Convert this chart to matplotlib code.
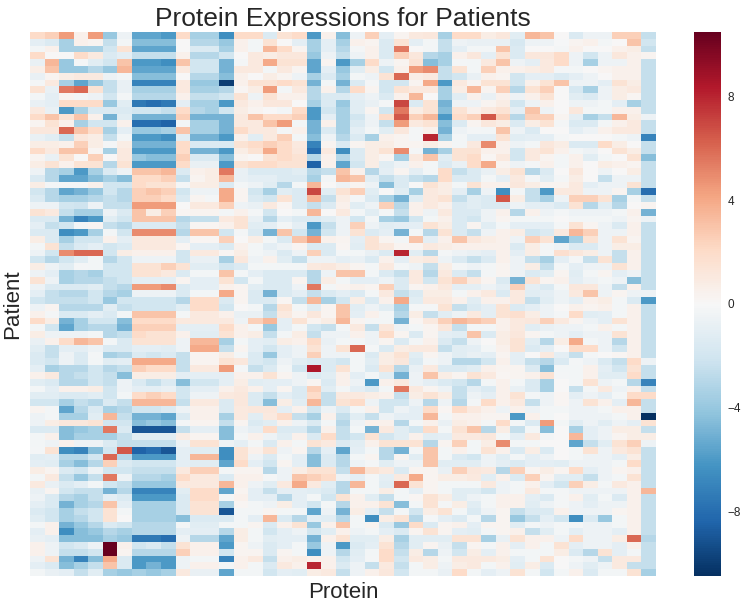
import numpy as np
import matplotlib
matplotlib.use("Agg")
import matplotlib.pyplot as plt

title = "Protein Expressions for Patients"
x_label = "Protein"
y_label = "Patient"
cbar_ticks = [-8, -4, 0, 4, 8]
value_range = (-10.5, 10.5)

# rows = patients (80), columns = proteins (43)
expression = [
    [2, 2.5, 4.5, 0.5, 4.5, -4, -0.5, -5.5, -5.5, -6, 2, -3.5, -3.5, -6.5, 2, 2, -1.5, 1.5, 2, -6, 0.5, -4.5, -0.5, 2.5, -1, 0.3, 1, 1.2, -3.5, 2, 2, 0.8, 1.2, -1.2, 3.5, 3, 0, -1.5, -0.5, -0.5, 2.5, 2.5, -2.5],
    [-1, -1.5, -3.5, 0.5, 0.3, -2.5, -0.3, -4.5, -4.5, -4.5, 0, -3, -3, -4, 0.5, -0.3, 1.5, 0, -1, -3.5, -1, -3.5, 0.5, 0.3, -1.5, 1.5, -1, -0.3, -2.5, -0.5, -0.8, -0.8, -0.8, -1.8, -0.5, -0.5, -0.1, 0.3, 0.5, -0.3, 0, 3, -2],
    [-0.3, 0.5, -3.5, -3.5, -3.5, -2, 1.5, -5.5, -5.5, -5.5, 0, -1.5, -1.5, -3.5, 0.5, -0.3, 3.5, 2, 0.3, -3.5, -1, -3, -0.2, 0.5, -1.5, 5.5, 0, -0.3, -2.5, -1, -0.3, -0.3, 3, -1.5, 0, 0, -0.2, 0.5, 0, 0, 0.5, 0.8, -2.5],
    [2, 0, 0, 2, 1, -1.5, -1, -2.5, -2.5, -2.5, 0.5, -3, -3, -2, 0, 1, 0.8, 1.2, 1.2, -4, -0.5, -2.5, -0.5, 0.5, -1.5, 2.5, 1.2, -3, -3.5, 0.5, 1.2, -1, 1.5, -1.5, 1.2, 1.2, 2, -0.5, -2, -0.5, 1.2, 0.5, 0.3],
    [-0.8, 3.5, -4, -0.2, -1.2, -2, 3, -6, -6, -6.5, 3, -2, -2, -5, -0.2, 1, 4, 1.5, 1.5, -5.5, 0.3, -6, -3.5, 2, -0.5, 0.3, 1.5, -4.5, -3.5, -0.2, -0.3, 1, 3, -0.5, -1, 1, 2, -0.5, -3.5, -0.5, -0.5, 0.5, -2.5],
    [0.7, 3, -4, -4, -3, -4, 3.5, -5.5, -5.5, -5.5, 1, -2, -2, -5, 1, 1, -0.3, 1, 0.3, -5.5, -1, -4, -1.2, 0.8, -2, 0.5, 4.5, 5, -2.5, 1.5, -0.3, 2.5, 0.5, 0.5, 0.8, 1, -0.2, -0.3, 0, 0.3, 0.5, 0.5, -2.5],
    [-0.8, 0.3, 0.8, 1, 1, -0.5, -0.3, -4.5, -4.5, -4.5, 0, -3, -3, -4.5, 0.5, 0, 0.8, 0.3, -0.5, -3.5, -1.5, -3.5, -0.3, -0.5, 1.5, 6, 0.8, 1, -2.5, -2, -0.8, 0.5, 0.3, -2, -1, -1, -1.5, -1, -0.5, 0, 0.5, 0.5, -2.5],
    [-0.2, 1, -3.5, -5.5, -4, -2.5, -0.8, -7, -7, -7, 1, -4, -4, -10, 0.5, 1.5, 1.5, 2, 1.5, -5, -0.3, -5, -1.5, -0.2, -2, -2, 0.3, 4, -6, 1, 0.3, 1.5, 1.5, -2, 0.5, 1.5, 3, -0.5, -0.5, -1, 1.5, 0.8, -2.5],
    [1.5, -0.8, 5.5, 6, 1.5, -2.5, -0.8, -3.5, -3.5, -3.5, 1, -3.5, -3.5, -3, 0.2, 0.8, 4.5, -0.3, 1, -3, 0.5, -3, 2, 0.3, -2, 1.5, 1, 1, -3.5, 0.8, 3.5, 0.3, 2.5, -3, 1.5, 2.5, 0, -1.8, -3.5, -0.5, 0.8, 1, -2.5],
    [-0.3, -1, 0.3, -0.3, -0.5, -2, -0.3, -3, -3, -3, 0.5, -2.5, -2.5, -2, 1.5, -0.5, 1.5, 0.5, 0.5, -3, -1.5, -1.5, -1, -0.5, -1.5, 0.5, 3.5, 0, -3.5, -1.2, 0.5, -0.8, 0.5, -0.5, 0.5, 1.5, 0, -1.2, -1.5, -0.5, 0.8, 0.2, -2.5],
    [-0.8, -1, 2, 2, 2, -4, -1.2, -7.5, -8, -7.5, -1, -3.5, -3.5, -6, 1, 0.5, 1.2, 1.2, 0, -3.5, -1.5, -4, -1.2, -0.8, -0.2, 7, -1.5, 1.5, -5, -0.5, -0.5, 0.3, 0.8, -2, -0.5, 0.5, 0, -0.5, -0.5, -0.3, -1, -3.5, -2.5],
    [1, -0.8, -6, -3.5, -1.5, -1.5, -1.5, -2, -2, -2.5, 2, -3, -3.5, -2, 0.8, 0.3, 0, -0.3, 2, -6, -2, -3.5, -1.2, 0.3, -2, 5.5, 0.8, 1.5, -4.5, 1.5, 0.5, 1, 1.5, -1, 3, -0.5, 0, 1.2, -0.3, -0.3, 0.5, 0.5, -2.5],
    [2, 3, 1.5, 3, 0.5, -5, -1.2, -5, -5, -5, 2.5, -5, -5, -5, 1, 3, 2, 2, 2.5, -6, -1, -3.5, -2, -0.5, 2, 6.5, 2.5, 3.5, -6, 2, 2.5, 6.5, 2.5, -3, 2.5, 2.5, 0.3, -1, -3.5, -2.5, 3.5, 0.8, -0.5],
    [0.3, 1.5, 0.5, -3.5, -2, -2, 0.5, -8, -8, -8.5, -0.3, -3.5, -3.5, -5, 1, 1, 3, 4.5, -0.3, -5, 0.5, -3.5, -1.5, -0.5, -2.5, 4.5, 1, 1.5, -4.5, -1.5, 0.3, 1.2, 0.8, -1.5, 0.8, 1.5, -0.2, -1.5, -1.5, -0.3, 0.5, 1, -2.5],
    [1.2, 1.2, 6, 3, 2, -3.5, -1, -4, -4, -3.5, 3, -3.5, -3.5, -5, 2, 1, 1, -0.2, 0.5, -5, -1.5, -3.5, -1, -0.3, -1.2, 1.2, -0.2, 0.5, -5, -0.5, -0.2, -0.3, 3, -0.5, -1.5, 0, 0, -1, -0.5, 0.5, 1, 1, -2.5],
    [-0.8, -1.2, -2.5, 1.2, 0.8, -2.5, -0.3, -6, -6, -6.5, -1.2, -5, -5, -6, 0.5, -1.2, 1, 2.5, -0.3, -4.5, -0.5, -3, -1.5, -3.5, 0.5, 0.3, -0.2, 8, -3.5, -0.3, -1, -1, 1.5, -1.2, -1, -1, -0.2, 0, 0, 0, -0.3, -0.5, -7],
    [0.8, 0.8, 0.5, 2.5, 0.8, -0.2, 0.8, -5, -5, -5, 2, -1.5, -1.5, -1.5, 1.5, 2, 2.5, 2, 1, -7, 0.3, -1.5, 0.3, 0.8, 0.8, 0.3, 0.3, 0.8, 0.3, -0.3, 1, 5, 0.5, -0.5, -0.3, 1.2, 0.8, -1.5, -1.5, 2, 0.8, 0, -2.5],
    [2, 1, 3, 3, 0.2, -3.5, 1, -6, -6, -6, 2, -5, -5, -6, 0.8, 1.5, 4, 2, 1.2, -8, 1, -6.5, -1.5, 0.8, 1.5, 5, -0.2, -5, -3.5, 1.5, 1.5, 0.5, 0.5, -2, 1, 1.5, 0.5, -0.3, -0.5, 0, 1.5, 0.8, -2.5],
    [0.3, -0.8, 1.5, 0, 2.5, 0, 1, -4, -4.5, -4.5, 2.5, -1.5, -1.5, -4.5, 0.3, 0, 1.5, 2, 1.5, -3, 0.5, -3, -1.5, 0.8, 0.2, -3.5, 1, 3, -1.2, 1.5, 2, 0.2, 1, -2, 1, 0.3, -0.3, 0.5, -1.2, -0.3, 0, 1.5, -4.5],
    [0.8, 1.5, 0.5, 1.5, 1.5, -3, 1.5, -6, -6, -6, 2, -0.8, -0.8, -6, 1.5, 2, 2, 1.5, 1.5, -8.5, 0.5, -5.5, -2, 0.8, -1.2, -0.5, 0.5, -0.3, -1.5, -0.8, 2, 4, 0.3, -0.5, -0.2, 0.5, -0.3, 0.5, 0, 0.8, 0.5, 0.3, -2.5],
    [-0.5, -3, -3.5, -6, -3.5, -1.5, -0.5, 3, 3, 3.5, -1.5, 0.5, 0.8, 5.5, -0.8, -1.5, -1.5, -1.5, -1.2, -3, -2.5, 3, 0.5, -3, -1, 0.3, -1, -0.3, 2, -2.5, -1.5, -0.8, 0.8, 1.5, -3, -1.5, 0, 1.2, 0, -0.5, 0, 0.8, -2.5],
    [-1.5, -3, -5.5, -5.5, -4.5, -3.5, -4.5, 2, 2, 2.5, -2.5, 0.3, 0.8, 3.5, -0.8, -1, -1, -1.5, -1.5, -3.5, -0.3, 3.5, 3, -1.2, -2.5, -1.5, -2.5, -3, 2, -1.5, -1.5, -0.3, -1, 1, -0.2, -1.2, -0.2, 0.8, 0, -2.5, -0.5, -0.5, -2.5],
    [0.8, -0.2, -0.2, -0.2, 0.5, -2, -2, 2, 1.5, 1.5, -0.2, 0.8, 0.8, -1.5, -0.3, -0.5, -1.2, -3, -0.3, 3.5, 0, -0.5, 0.3, -0.5, -4.5, -1.5, 0, 1.5, 0.8, -0.3, 1.5, 0.5, 0.5, 1.2, 0.8, 0.3, 0.3, 1, -1, -0.5, -0.5, 1.5, -2.5],
    [-2, -3, -5.5, -5, -4, -2, -3, 2.5, 3, 2.5, -2, -0.5, -0.5, 4, 0.3, -2, -3.5, -1.2, -1.5, 7, -1.2, 1.5, 2.5, -1.2, 0, -1.2, -3.5, 1, 0.8, -1, -3.5, -0.5, -6.5, -0.3, -2.5, -6, 1, 1, -0.5, -0.5, 0.3, -3.5, -8],
    [-1.5, -3, -3.5, -3.5, -3, -2.5, -3, 2.5, 2.5, 2, -1.5, 0.3, -0.2, 4, 0.3, -1.5, -2, 1.5, -1.5, 3.5, -2.5, 0.8, -0.2, -1.5, -3.5, -5, -1.2, 1, 1.5, -2.5, -1.2, -1.5, 6.5, 0.8, -2.5, -3.5, -0.5, 2.5, 2.5, 1.5, -3.5, -0.3, -2.5],
    [-0.5, -0.5, -2, -2.2, -0.5, -2.5, -2.5, 4.5, 4.5, 4.5, 0, 1, 1, 2.5, -0.5, -0.8, 1, 0.2, -1.5, -2.5, -1.5, 0.5, -1.2, -0.5, 2.5, -3, 0.5, 1, 0.5, -1.5, -1.2, -1.5, -1.5, -0.5, -1, -1, -1.5, 1.5, -3, -1.2, -3, 0, 0.3],
    [1.5, 1, -2.5, -3.5, -3.5, -0.5, -1.5, 3, 0.8, 2.5, 0.2, 0.3, 0.3, -0.3, 0.5, -0.2, -2, 0, -0.3, 3.5, 0, 1, -0.3, -1.2, -0.3, -2.5, 0.5, -0.5, 1, -1.5, -1.5, -0.5, 0.5, -3, 0.5, -0.5, -0.2, -0.5, -0.5, -0.5, -0.3, 0.5, -5],
    [-1.5, -1.5, -5, -7, -6, -1.2, -2, 3, 3, 3, -3, -2.5, -2.5, 1, 1.5, -0.8, -3, -1, -1.5, -1.5, -1.2, -0.5, -2, -0.3, -3.5, -4, -2, -0.3, 0.5, -1.5, -2, -0.5, 0.3, -0.3, -0.3, -0.3, 0, -0.3, -0.3, -0.3, -0.5, 0.3, -0.5],
    [-1, -2.5, -2, -0.3, 0.2, -2.5, -3, -1.5, -1.5, -1.5, -2.5, 0.2, 0.2, 0.5, 1.5, -1.2, -1, -0.3, -1, -6, -2.5, -0.5, 2.5, -0.5, -1.2, -1, -1, 1.5, 0.8, -1.5, 0.3, -1.2, -0.3, -1, -1, -1, -0.2, 1.5, 0.3, -0.5, -1.5, 0.5, -2.5],
    [-1.5, -1.5, -6.5, -6, -3.5, -0.3, -2, 5, 5, 5, -3, 3, 3, -2, -0.2, -1.5, -5, 3, -2, -5, -2, -0.5, 1.5, -1.5, -1, -5, -0.3, -3, 1.5, -1.5, -2.5, -0.5, 0.5, 0.8, -2, -1.5, 1, 3.5, 2.5, -0.5, -0.5, 0.5, -2.5],
    [0.8, -1.5, -3.5, -2, -2, 0.5, -1, 1, 1, 1, -1, 0.2, 0.2, 2.5, 0, 0.8, -0.3, -1.5, 3, 4.5, 0.5, 0.3, -1, 1.5, 0.3, -0.3, 3, -1, 0.5, 3, 1.2, 0.8, 0.5, -0.5, 2.5, 1.5, -5.5, -3.5, 1.5, -0.5, 1.5, 0.3, -2.5],
    [-0.3, 1.5, -2.5, -1.5, -1, -2, -1.5, 1, 1, 1, 0.2, -1, -1, -1.5, 0.5, -0.3, -1, -0.5, 0.3, -1.5, -1.5, 0.2, -1.2, 1.5, 1, 0.3, 0.3, 1, 0.8, 0.5, 0.5, 0.5, 0.5, -1.5, 0.8, -0.3, -0.5, -1.5, -1.5, -0.5, 0.8, 0.8, -2.5],
    [-0.5, -2, 5, 6, 6, -2, 0.8, 0.5, 0.5, 0.5, -2, 1, 1, 0.2, 0.8, -0.3, -0.5, -1.5, -0.5, 2.5, -1.5, -0.2, -0.3, -0.8, -1.5, 8, -1.2, -3, -0.2, -0.5, -0.8, -1, 0.5, -1, 0.8, -0.3, 1.8, 1.2, 0.8, -0.5, -2.5, 0.5, -2.5],
    [-2, -3, -2, -1.2, -0.3, -3, -2, -0.5, -0.5, -0.5, -2, -0.8, -0.8, -3.5, 1.2, -0.5, 0.5, -1.2, -2.5, -0.5, -0.5, -1, -0.8, -1.5, 0.5, -1, 0.8, 1, -0.5, -1.5, -2.5, -1.5, 0.5, -0.5, -2.5, -3.5, -1, -0.2, -2.5, 1.5, -2.5, 0.5, -2.5],
    [0.8, -0.5, -1.2, -0.2, -0.3, -2, -2, 1.5, 1.5, 2.5, 1.5, -1.2, -1.2, -2, -1.5, -0.3, -0.3, -0.3, -0.3, 1, 1.2, 0.8, 0.3, -0.3, 1, -0.3, -0.5, -2.5, 0.8, -0.3, -0.5, -0.3, 0.3, -0.5, 0.8, -2.5, -0.3, -1, -0.5, -0.5, 1.5, 0.5, -2.5],
    [-0.5, -1, -3.5, -3, -3.5, -2, -2, 1.5, 1.5, 1, -1.5, -0.3, -0.3, 3, -0.3, -1, -1.5, -1.5, -1.5, -3, -0.5, 3, 3, -0.3, -1.5, -2.5, 1, -3, 1, -1.5, -2.5, -0.3, 0.3, -0.5, -1.5, -1.2, 0.3, -1.2, -0.3, 0.3, -1, -0.5, -2.5],
    [1.5, -0.5, -3.5, -3, -3, -2.5, -2, -1, -1, -1, 0.3, -1, -1, 1.5, -2, -0.3, -1.5, -1.5, 0.3, -3, 0.8, -0.3, -1, -1, -0.5, -1.5, 1, -2, 1.5, 2.5, 1, 0.3, -1.5, -5, 1.5, 0.3, 0.5, -1, -0.5, -0.3, -0.5, -4.5, -2.5],
    [-0.5, -1.5, -1.5, -1.5, -1.2, -2.5, -3, 4.5, 4.5, 5, -1.5, -1, -1, 0.5, 0.3, -1.2, -1.5, -1.5, -0.5, 5.5, -0.3, 0.3, 0.5, 0.3, 2.5, -1.5, 0.3, 0.5, 1, -1, -1, -0.5, -1, 2.5, -1, -1.5, -0.3, 1.2, 1.2, -0.5, -2.5, 0.5, -2.5],
    [-1, -2.5, -3, -3, -2, -3, -3.5, -0.5, -0.5, -0.5, -1.5, -0.3, -0.3, 4, 0.3, -1.5, -5, -1.5, -1, -2.5, -1.5, -1, -1.5, -0.3, 1, -2.5, -1.5, 0.8, 0.8, -0.3, 0.5, 1, -1.5, 1, -1.2, -1, -0.5, 1, 3, -0.5, 0.3, -0.5, -0.5],
    [-2, -2.5, -2.5, -2.5, -2, -4, -2, -2, -2, -2, -3, 2, 2, -1.5, 0.3, -1.5, -1.5, 0.2, -2.5, 3.5, -3.5, -2, 0.8, -1.5, 0.5, 4, -1.2, 1, 1, 0.5, -1.2, 0.5, 0.5, 1, -2.5, -1.2, -0.5, -1, 0.5, 0.8, -0.3, -1.5, -6],
    [-0.5, 0.3, -3, -3, -3, -1.2, -2.5, -2, -2, -2, -1.2, 2, 2, -2, 0, -0.3, -3, 1.5, -0.3, -1.2, 0.3, 3, -1.2, -0.5, -1.2, -3.5, -0.2, -0.2, 1.5, -2.5, -1.5, -1, 1.5, -1.5, -1, -0.5, 0, 0.5, 0.3, 0.5, -0.3, 0.5, -2.5],
    [0.5, -0.2, -1.5, -1.5, -1, -1.5, -0.3, 3, 3, 3, -0.2, 1, 1, 0.5, -0.8, -0.8, -2.5, 1, 0.3, 1.2, 0.3, 3, -1, 0.5, -0.3, -3, 0.8, -2.5, -1.2, -0.5, 1, -1, 1.5, 1.8, 0.8, -0.5, -0.2, 2, -1.2, -1, -0.3, 0.5, -2.5],
    [2, 0.8, -5, -3.5, -2, -2, -4.5, 2, 2, 2, 1, 1, 1, 1, -0.5, 2.5, 3.5, -1, 1.5, 0.3, 0.8, 3.5, 0.3, -0.3, -0.3, -5, 0.2, 1, 2.5, 3.5, 3, 2.5, 0.5, 1, 1.2, 2.5, 1, 0.3, -0.5, -1, 1.5, 0.5, -2.5],
    [-0.3, -2, -5.5, -3.5, -3, -3, -5, 2.5, 2.5, 2.5, -1, -1, -1, 2, 0.5, -0.3, -4, -1, -0.3, -2, -2.5, -0.3, 1, -2.5, 1.2, -0.5, -0.3, 0.3, 1.2, -2.5, -0.3, -0.3, 0.5, 1, -1.2, -0.8, -0.5, -0.5, -0.3, 0.5, -0.3, 0.5, -2.5],
    [0.8, -0.5, -0.5, -0.5, -0.3, -3, -2.5, 2, 1.5, 1.5, 0.5, -1.2, -1.2, 1.5, 0.5, 0.8, -2.5, -0.3, 0.8, -2.5, -0.5, -0.5, 0.5, -0.5, 2, 0.3, -1.5, 0.3, -1, -1.2, 3, -1.5, 0.8, 1.2, 0.3, -0.3, -0.5, -1, -0.5, -0.5, 1.5, 0.5, -2.5],
    [-0.8, 0.5, 2, 3.5, 3, -0.3, -1.5, 1.5, 1.5, 1.5, -0.5, 3.5, 3.5, -3.5, -0.3, -1, -1.2, 0.8, 0.5, 2, -0.8, -0.3, -0.3, -0.5, 0.3, -1.5, -0.3, 0.5, -1.5, -2.5, -0.5, 0, 0.8, 1.5, -1.2, -3, 0.8, 4, -0.3, -0.5, -3, 0.5, -2.5],
    [-1.2, -2.5, -1, -1, -0.5, -1.5, -1.5, -1, -1, -1.2, -0.5, 4, 4, -2.5, 0.3, -1, -2, -1, -0.5, 1.5, -0.5, 1.5, 6, -0.2, -1.5, 0.8, 1, 1, -2.5, -1.2, -1, -0.3, 0.5, 1.5, -1.5, -1, 0, 2, 2, -0.5, -2, 0.5, -2.5],
    [-1.5, -2.5, -0.5, -1.5, -0.2, -3.5, -3, -1.5, -2, -1.5, -2.5, 0.3, 0.3, 0.8, -0.3, -1.5, -4, -1, -0.5, 2.5, -0.5, -0.5, -0.3, -1.5, 0.8, 1.5, -1.2, 0.3, -0.5, -1.2, -0.8, -1, 0.3, -1, 0, 1, -1, -2.5, -0.3, 0, 0.2, 0.5, -2.5],
    [-1.5, -2, -0.5, -1.5, -0.3, -1.2, -1, 4, 4, 4, -2.5, 0.3, 0.3, 1.5, 1.2, -1.5, -2, -0.5, -1.2, -1.5, -1.5, -2, -0.3, -1.2, 0.8, 1.2, -1.5, -0.3, -0.5, -3, -3, -2, 0.5, -1, -2.5, -3, -1.5, -0.2, -0.5, -1.5, -2.5, 2, -0.5],
    [-1, -3.5, -3, -3, -2, -3, -2.5, 2.5, 2, 2, -2.5, 1, 1, 4.5, -0.2, -2.5, -1.5, -0.3, -2, 8.5, -1.5, 1.5, -0.3, -1.5, 1.5, -3, -0.8, 1, -1.5, -1.5, -1.2, 0.5, 0.3, 0.3, -1.5, -4.5, -0.3, -0.3, 0.5, -1, -2, 1.5, -2.5],
    [0.5, 1, -3, -2.5, -2, -2.5, -4.5, 0.8, 0.8, 0.8, -1, -1, -1, -1, 0.5, 0.5, 1.5, 0.3, -0.5, -1.5, -1.2, 0.5, -1, -0.3, -1.2, -5, -0.5, 3, 0.8, 0.3, 1.5, 1, 0.2, 0.3, 0.5, 1.5, -0.2, -0.3, 0.5, -1.2, -1.2, 2, -2.5],
    [-1.2, -1.5, -3, -3, -2, -2.5, -0.5, -1.5, -2.5, -1.5, -4.5, -2, -2, -1, 0.8, -1.2, -1, -1, -0.5, 0.3, -1.5, 0.5, -0.5, -6, 0.5, 1, -0.5, -1, -1.5, -2, -3, -0.3, 0.5, -0.3, -1.5, -3.5, 0, -0.3, 1.5, -0.5, -0.3, -3, -7],
    [-0.3, -1, 0.5, 0.5, 0.8, -2, -0.5, -1, -1, -0.8, -2, -1, -1, 0.5, 1, 0.5, -1, 0.3, -1.5, 2.5, -1.2, -0.3, -1, -1.5, -0.3, 5.5, 1, 0.3, -0.5, -2.5, -1, -1.5, 0.5, -0.8, -1.5, -3.5, 0, -2.5, -0.3, 1, -0.5, 0.5, -2.5],
    [-1.2, -1.2, -1.5, -1.5, -1.2, -2, -0.3, 2, 2.5, 2, -2, -0.5, -0.5, 1, 1.2, -1.5, -2.5, -1, -1.5, 2, -2.5, 1, 1, 0.8, 0.5, -2.5, 0.8, 1.5, 0.8, -2.5, -0.5, -1, 0.5, 1.5, -0.3, -0.5, 0.2, -1, -0.5, -1, -0.3, 2, 2],
    [-2, -2, -3.5, -2.5, -3, -1.5, -2.5, 3.5, 3.5, 3.5, -2.5, 1, 1, -1.5, 1.2, -1.5, -4.5, 0.8, -1.2, 3.5, -2.5, 1.5, 2, -0.5, -2, -2, -0.5, -3, -0.5, -3, -0.3, 2, 0.5, 1, -2.5, -0.5, 0.2, -0.5, 1.5, 0.5, -1, 3.5, -2.5],
    [0.3, -0.3, -5.5, -3, -1.5, -3.5, -3, -2, -2, -1.5, -0.5, 0.5, 0.5, -1.5, 1, 1.2, 1.2, -1, 0.5, -2, -0.5, -1.5, -0.3, 0.5, -2, -0.5, -1, 2, 0.2, 2, 1, 0.5, -0.5, 0.5, -0.5, -0.3, -0.3, -0.5, -0.5, -0.3, 0.5, 0.5, -2.5],
    [-0.5, -0.3, -3.5, -3.5, -1.2, 3.5, -2.5, -5, -5, -5.5, -1.5, 0.5, 0.5, -3.5, 1, -1.2, 1, 2, -2.5, -3.5, 0.5, -2.5, -1.2, -2.5, -0.5, -1, -1, 3.5, -0.3, 0.5, 0.5, 0.3, 0.3, -6, 0.5, -0.3, 0, -0.5, -0.5, -0.5, -0.3, 0.5, -10.5],
    [-0.5, 0.8, 1.2, 1.2, 1.5, -2, -2, -4.5, -4, -4.5, -0.3, 0.3, 0.3, -2.5, 0.3, -1.5, -1.2, 0.5, -0.5, -1.5, -0.3, -3, -0.5, 0.5, 0.5, -3, -0.3, 0.5, -0.8, 0.8, 0.5, -0.3, 2, -0.3, -1.5, 4.5, -0.3, -1.2, -0.5, -1.2, -0.5, -1, 1.5],
    [-1.5, -1.5, -4.5, -4, -3.5, 5.5, -1.5, -9, -9, -9, -2.5, -1, -1, -4.5, -0.5, -1, 2, -1.5, -1.5, -3, 0.5, -2.5, -0.3, -5, 1, -1.2, -2, 2, -0.3, 1.5, 3, -3, 0.8, -2.5, -0.3, -4.5, 0, -3.5, -1, -0.5, 0.8, 0.8, -2.5],
    [-0.3, 0.5, -4.5, -3.5, -3.5, -3.5, -2.5, -1.2, -1.2, -1.2, 0.8, 0.3, 0.3, -4.5, -0.3, 0.5, -0.5, -1.2, 0.5, -1.5, 2, -2.5, -2, 1.5, -2, -1.2, 0.5, -1.2, -1, 1, 1, 1.2, -0.3, -1, 1, -0.3, 0, 3.5, -1, -0.5, 0.3, 0.8, 0.8],
    [-0.3, -0.5, 0.5, -0.5, -0.5, -1.5, -2.5, -2.5, -2.5, -2.5, -0.5, 1.5, 1.5, -0.5, -1, -0.3, -1.5, 0.5, -0.3, 1.5, 1, -1.5, -1.2, 0.5, 1.5, 1.5, 1.5, -3, 0.3, 2.5, -0.3, 0.8, 5, -0.3, -0.3, 0, 0, -5.5, -2.5, -1.2, 1.5, 2.5, -0.5],
    [-0.2, 1.5, -6.5, -7, -4.5, -2, 6.5, -8.5, -8, -9, -1, -1.2, -1.2, -6.5, 1.5, 0.5, 1.5, -0.5, 0.3, -3, -1, -5.5, -1, -0.3, -3, -5, -0.3, 3, -0.3, 0.5, -0.3, 1.5, 0.5, -1.5, 0.8, -1.5, 0, -0.3, 1.5, -0.5, 1, 1.5, -2.5],
    [-1.2, -1, -3, -3, -2, 6, -3, -6, -6, -6, -1, 3.5, 3.5, -6.5, 1.5, -0.5, -1.5, -0.3, -1, -4.5, -1.5, -3, -0.3, 0.3, -3, 0.3, -1.2, 3, -0.3, -1.5, -2, -0.5, -1.2, -0.3, -1, -0.5, 0, -0.3, -0.5, -0.5, -1, 0.8, -2.5],
    [-1, -1.2, -3.5, -4.5, -3, 2.5, -1.5, -2, -2, -2, -1, -1.2, -1.2, -5.5, 2, -1, -2, 0.3, -1, -4.5, -1.5, -3, -0.5, -0.2, -1.2, -0.5, -0.5, 3, -1.2, -1.2, -1.2, -0.5, -1, -1.5, -1, -1, -1.2, -0.5, -0.5, -0.5, -0.3, 2, -2.5],
    [0.8, 0.3, -1.5, -2, -0.5, -2, -2, -2.5, -2.5, -2.5, 1, 2.5, 2.5, -0.3, 0.3, 0.3, -3, -0.5, 0.8, 1.5, 1.5, -2.5, 3.5, 1.5, 1, -1.5, 0.3, 0.3, -0.8, 2.5, 1.2, 1, -3, 2.5, 0.3, 0.8, 0.3, 2, -1, -0.5, 0.3, 0.5, -2.5],
    [-0.3, 1, -2.5, -4, -2.5, 5.5, -0.5, -3, -3, -3.5, 2, 1, 1, -1.5, 0.5, 0.5, -0.2, -0.5, 3, 2.5, 2, -0.5, -1, -0.3, -1, 1, 4, 0.3, 0.8, 0.8, 1, -1.2, 0.5, -1.5, 2.5, 0.3, -1.2, -1.2, -2.5, -0.5, -0.3, 1.5, -2.5],
    [1, -0.8, -1.5, -1, -0.3, -2, -2.5, -4, -4, -4, 1, 1, 1, 3.5, 0.5, -0.5, -1.2, 1, 4, 1, -1.2, -3, 3.5, -0.3, -1.2, 6, 1.5, 0.3, -0.3, -0.3, -0.3, 1, -0.5, -0.3, 0.5, -1, -2, 2.5, 0.8, -0.3, 1, 0.5, -2.5],
    [-0.8, 0.3, -2, -2.5, -2.5, -5, -3, -7, -7, -7, -1.2, 2, 2, -5.5, 0.3, -1, -2.5, -1, -1, -1.2, -1.5, -3, -0.3, -0.3, 0.8, -0.3, -1, 0.3, -0.3, -1.2, -1.2, -2, -0.5, -0.3, 1, -0.3, -0.2, -0.5, -0.5, -0.5, -0.5, 0.5, 3.5],
    [-0.5, -1.5, -3, -3.5, -2.5, -1, -1.5, -6, -6, -6, -1.5, 2, 2, -0.3, 0.5, -1, -1, -3, -1, -0.3, -2, 1.5, 0.5, -1.2, -2.5, -0.3, 0.2, 1.5, 0.8, -1.2, -0.5, -0.3, 0.5, 0.5, -1, -1.5, -0.2, 0.5, -1.2, -0.3, -1.5, 0.5, -2.5],
    [-1, -1.5, -5, -3.5, -3, 3, -1, -3.5, -3.5, -3.5, -1.5, 1.5, 1.5, -3.5, 0.2, -0.3, -0.5, 0.8, -1, -2, -0.3, -3, 0.5, 0.5, 1.5, -4.5, -0.3, 1.5, -0.2, 0.8, -1.2, -0.3, 0.5, 0.5, -1.2, -0.5, -0.2, -0.5, -1, -0.5, -0.5, 0.5, -2.5],
    [-1.5, -2, -3.5, -2.5, -2, 1.5, -0.3, -3.5, -3.5, -3.5, -1.5, 1.5, 1.5, -9, -0.3, -0.3, 0.3, -0.3, -0.3, -5.5, -0.5, -5, 0.8, -1, -2.5, -0.3, -2, 0.8, 1.5, -0.3, -1.5, -0.5, 0.3, -2.5, -1.5, -1.5, 0.5, -0.5, -0.5, -0.5, 0.3, 0.5, -2.5],
    [-1.2, -2, -3.5, -3, -2, 1.5, 0, -3.5, -3.5, -3.5, -4.5, -1.5, -1.5, -1.5, -0.3, -1, 3.5, -1.5, -3, -1, -1.2, -3, -0.3, -6.5, 0.8, 1.5, -3, -0.2, -1, -1.5, -0.3, -3, 0.3, -4, -2.5, -1, -2, -6.5, -1.5, -4, -0.3, 0.5, -2.5],
    [-0.3, 0.5, -5, -4, -3, -1.5, -2, -3, -3, -3, -0.3, -1.2, -1.2, -0.3, -0.3, 0.3, -1.5, 0.5, 1.5, -4, 0.5, 3, -0.3, 0.3, -1.5, -4, 2, -1.5, 0.3, 0.5, -1, 0.3, 0.3, -1.2, -0.3, -0.5, -0.2, -0.3, -0.5, -0.5, -0.3, 0.5, -2.5],
    [-1, 0.5, -6.5, -4.5, -4, -3, -3.5, -3, -3, -3, -1, -1, -1, -3, 0.8, -0.3, -2, -1, -0.5, -2, -1.2, 0.5, -0.5, -0.3, -1, -1.5, 0.3, 1.5, 0.3, -1, -1.2, -0.3, 0.3, 0.5, -2.5, -1.2, -0.3, -1, -0.5, -0.5, -1, 0.5, -2.5],
    [-0.8, -1, -4.5, -4.5, -4.5, -3.5, -4, -7.5, -7.5, -8, -0.5, -3, -3, -5.5, 0.8, -0.3, -1.2, -1, -1, -5, 0.5, 1.5, -1.2, -1.2, 0.8, -3.5, -1.2, -1.2, -1.2, 1.5, 1.5, -3.5, -0.8, 1.5, 0.5, 0.5, -0.5, 2, -0.5, -0.5, 0.8, 6, -3],
    [0.5, -0.5, -2, -1.5, -0.5, 10.5, 0.5, -2, -1.5, -2.5, 1.5, 0.5, 0.5, -6, 0.3, -0.5, -1.5, -1, -0.3, -4, -0.5, -6, -1.5, -1, 1.5, -3, -1.2, 0.3, -0.8, -2.5, 0.3, -0.3, 0.5, -1, 0.5, -0.3, 1.5, -1, -0.5, -0.5, -1, 0.5, -2.5],
    [0.5, -0.5, -2.5, -2.5, -2, 10.5, 0.3, -3, -3, -3, 2.5, 0.5, 0.5, -2, 0.3, 0.3, -1.5, 0.3, -0.3, -6.5, -0.5, -3, -1.2, -0.3, 2, -2.5, 0.8, -3, -0.5, -2, 0.8, -1, 0.5, -0.3, -0.3, -0.3, 0.8, -1.5, -3, 1.5, -1, -0.3, -2.5],
    [-0.5, 1.5, -5, -7, -4.5, 4, -1.5, -6, -6, -6, -0.5, -0.3, -0.3, -7, 0.5, 1, -2.5, 0.5, 0.8, 0.5, 0.5, -2, -1, -0.2, 2, -2, 1, 0.8, -0.3, 1, 1, 1, 0.8, -1, -0.3, 1.5, 0, -0.3, -0.5, -2.5, 1, 1, -2.5],
    [-1, -1.5, -4.5, -3.5, -2.5, 3, -1.5, -6, -5, -6, -0.5, 0.5, 0.5, -0.3, 0.5, -0.3, -1.5, 1, 0.5, 8, 0.5, -1.5, -0.5, -2.5, 1, -2.5, -0.3, 0.8, -0.5, 0.8, 1, -0.3, 0.5, -1.2, 0.8, -1.5, 0, -0.5, -1.2, -0.5, 1, -2.5, -2.5],
    [-0.3, -0.8, -1, -2.5, -1.2, -3.5, -4, -3.5, -4, -3.5, 1, -0.8, -0.8, -5.5, -0.3, -0.3, -2, -1, -1.2, 0.8, 1, -2.5, -0.5, 0.5, 1.2, -2, -0.3, -0.3, -0.8, 2, -0.3, -1, -0.5, 1.5, -0.3, -2, -0.3, 0.5, -1.5, -0.3, -0.3, 1.5, -3.5],
]

bad = [i for i, r in enumerate(expression) if len(r) != 43]
assert not bad, f"rows with wrong length: {bad} {[len(expression[i]) for i in bad]}"
data = np.array(expression, dtype=float)

plt.rcParams['font.family'] = ['Liberation Sans', 'DejaVu Sans']
text_color = '#262626'

fig = plt.figure(figsize=(7.5, 6.06), dpi=100)
W, H = 750, 606
ax = fig.add_axes([30 / W, 1 - 576 / H, (656 - 30) / W, (576 - 32) / H])
cax = fig.add_axes([694 / W, 1 - 576 / H, (721 - 694) / W, (576 - 32) / H])

mesh = ax.pcolormesh(data, cmap='RdBu_r', vmin=value_range[0], vmax=value_range[1])
ax.set_xlim(0, data.shape[1])
ax.set_ylim(data.shape[0], 0)
ax.set_xticks([])
ax.set_yticks([])
for s in ax.spines.values():
    s.set_visible(False)

ax.set_title(title, fontsize=19, color=text_color, pad=4.5)
ax.set_xlabel(x_label, fontsize=16, color=text_color, labelpad=4)
ax.set_ylabel(y_label, fontsize=16, color=text_color, labelpad=5)

cb = fig.colorbar(mesh, cax=cax)
cb.outline.set_visible(False)
cb.set_ticks(cbar_ticks)
cb.ax.tick_params(length=0, labelsize=8.5, labelcolor=text_color, pad=5)

fig.savefig('out.png', dpi=100)
